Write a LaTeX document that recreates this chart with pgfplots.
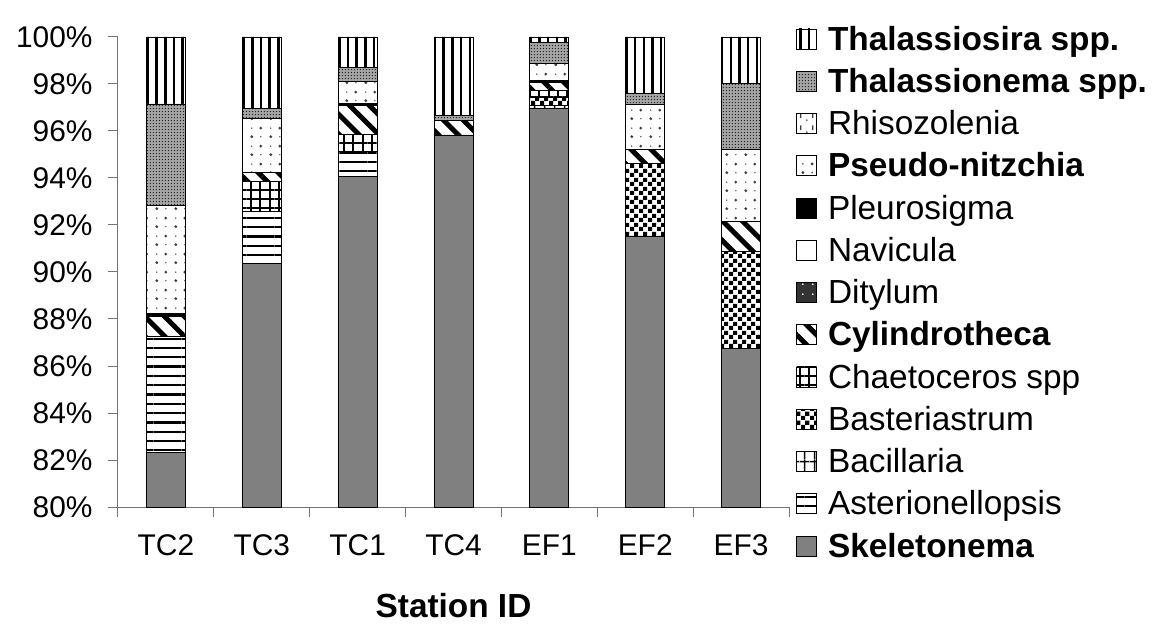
\documentclass[border=0pt]{standalone}
\usepackage{fontspec}
\setmainfont{Liberation Sans}
\usepackage{pgfplots}
\usepackage{pgfplotstable}
\pgfplotsset{compat=1.18}
\usetikzlibrary{patterns,patterns.meta}

% Bacillaria: sparse vertical lines with a cross bar
\tikzdeclarepattern{name=bacil, type=uncolored, bottom left={(0bp,0bp)}, top right={(10bp,14bp)}, tile size={(10bp,14bp)},
  code={\fill (4.2bp,0bp) rectangle (5.8bp,14bp); \fill (0bp,11bp) rectangle (10bp,12.6bp);}}
% checkerboard (Basteriastrum)
\tikzdeclarepattern{name=chk, type=uncolored, bottom left={(0bp,0bp)}, top right={(9bp,9bp)}, tile size={(9bp,9bp)},
  code={\fill (0bp,0bp) rectangle (4.5bp,4.5bp); \fill (4.5bp,4.5bp) rectangle (9bp,9bp);}}
% sparse dots (Pseudo-nitzchia)
\tikzdeclarepattern{name=pdot, type=uncolored, bottom left={(0bp,0bp)}, top right={(19bp,18bp)}, tile size={(19bp,18bp)},
  code={\fill (5bp,4.5bp) circle (1.6bp); \fill (14.5bp,13.5bp) circle (1.6bp);
        \fill (14.5bp,4.5bp) circle (0.8bp); \fill (5bp,13.5bp) circle (0.8bp);}}
% dots + dashes (Rhisozolenia)
\tikzdeclarepattern{name=rdot, type=uncolored, bottom left={(0bp,0bp)}, top right={(12bp,12bp)}, tile size={(12bp,12bp)},
  code={\fill (3bp,3bp) circle (1bp); \fill (8.5bp,5bp) rectangle (10bp,10bp);}}
% dense dots (Thalassionema)
\tikzdeclarepattern{name=ddot, type=uncolored, bottom left={(0bp,0bp)}, top right={(3.4bp,3.4bp)}, tile size={(3.4bp,3.4bp)},
  code={\fill (1.7bp,1.7bp) circle (0.85bp);}}
% Ditylum: sparse light dots
\tikzdeclarepattern{name=ldot, type=uncolored, bottom left={(0bp,0bp)}, top right={(10bp,10bp)}, tile size={(10bp,10bp)},
  code={\fill (3bp,3bp) circle (1bp);}}

\pgfplotstableread{
x Skel Aster Bac Bast Chaet Cyl Dit Nav Pleu Pseudo Rhiso Thnema Thsira
0 82.34 4.94 0    0    0    0.82 0 0 0.15 4.60 0 4.30 2.85
1 90.37 2.20 0    0    1.27 0.40 0 0 0    2.30 0 0.41 3.05
2 94.06 1.06 0    0    0.75 1.21 0 0 0.10 0.92 0 0.61 1.29
3 95.83 0    0    0    0    0.61 0 0 0    0    0 0.21 3.35
4 96.98 0    0.12 0.33 0.29 0.35 0 0 0.07 0.74 0 0.89 0.23
5 91.53 0    0    3.10 0    0.60 0 0 0    1.92 0 0.45 2.40
6 86.75 0    0    4.14 0    1.28 0 0 0    3.06 0 2.80 1.97
}\data

\begin{document}
\begin{tikzpicture}
\path[use as bounding box] (-118bp,-120bp) rectangle (1034bp,507bp);
\begin{axis}[
  at={(0,0)}, anchor=south west,
  scale only axis, width=671bp, height=470bp,
  ybar stacked, bar width=39bp,
  xmin=-0.5, xmax=6.5, ymin=80, ymax=100,
  axis lines*=left,
  axis line style={black!55, line width=1bp},
  tick style={black!55, line width=1bp},
  tick align=outside,
  major tick length=10bp, minor tick length=10bp,
  xtick={0,...,6}, xticklabels={TC2,TC3,TC1,TC4,EF1,EF2,EF3},
  major x tick style={draw=none},
  minor xtick={-0.5,0.5,...,6.5},
  ytick={80,82,...,100},
  yticklabel={\pgfmathprintnumber{\tick}\%},
  /pgf/number format/assume math mode=true,
  tick label style={font=\fontsize{30}{36}\selectfont, black},
  yticklabel style={xshift=-12bp},
  xticklabel style={anchor=base, yshift=-38bp},
  xlabel={\textbf{Station ID}},
  xlabel style={font=\fontsize{33.5}{40}\selectfont, at={(axis description cs:0.5,0)}, anchor=base, yshift=-110bp},
  every axis plot/.append style={draw=black, line width=0.8bp},
  legend image code/.code={\draw[#1, draw=black, line width=0.8bp] (0bp,-5bp) rectangle (20bp,15bp);},
  reverse legend,
  legend cell align=left,
  legend style={at={(1,1)}, anchor=north west, xshift=7bp, yshift=10bp,
    draw=none, fill=none, inner sep=0pt, row sep=8.75bp,
    font=\fontsize{33.5}{40}\selectfont,
    nodes={inner sep=0pt, text height=23bp, text depth=10.5bp},
    /tikz/every odd column/.append style={column sep=11bp}},
]
\addplot[fill=black!50] table[x=x, y=Skel] {\data};
\addplot[pattern={Lines[angle=0, distance=9.3bp, line width=2.3bp]}] table[x=x, y=Aster] {\data};
\addplot[pattern=bacil] table[x=x, y=Bac] {\data};
\addplot[pattern=chk] table[x=x, y=Bast] {\data};
\addplot[pattern={Hatch[angle=0, distance=9.3bp, line width=2bp]}] table[x=x, y=Chaet] {\data};
\addplot[pattern={Lines[angle=-45, distance=14bp, line width=5bp]}] table[x=x, y=Cyl] {\data};
\addplot[fill=black!80, postaction={pattern=ldot, pattern color=white}] table[x=x, y=Dit] {\data};
\addplot[fill=white] table[x=x, y=Nav] {\data};
\addplot[fill=black] table[x=x, y=Pleu] {\data};
\addplot[pattern=pdot, pattern color=black!75] table[x=x, y=Pseudo] {\data};
\addplot[pattern=rdot, pattern color=black!75] table[x=x, y=Rhiso] {\data};
\addplot[fill=black!35, postaction={pattern=ddot, pattern color=black!85}] table[x=x, y=Thnema] {\data};
\addplot[pattern={Lines[angle=90, distance=8.7bp, line width=2.5bp]}] table[x=x, y=Thsira] {\data};
\legend{\textbf{Skeletonema}, Asterionellopsis, Bacillaria, Basteriastrum, Chaetoceros spp, \textbf{Cylindrotheca}, Ditylum, Navicula, Pleurosigma, \textbf{Pseudo-nitzchia}, Rhisozolenia, \textbf{Thalassionema spp.}, \textbf{Thalassiosira spp.}}
\end{axis}
\end{tikzpicture}
\end{document}
